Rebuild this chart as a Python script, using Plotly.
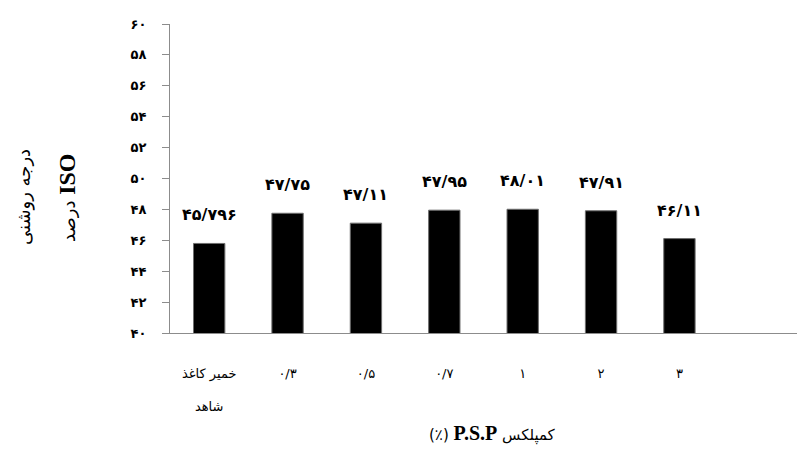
import plotly.graph_objects as go

# Brightness (ISO %) for control pulp and P.S.P complex dosages
categories = ["خمیر کاغذ<br><br>شاهد", "۰/۳", "۰/۵", "۰/۷", "۱", "۲", "۳"]
brightness = [45.796, 47.75, 47.11, 47.95, 48.01, 47.91, 46.11]
y_ticks = [40, 42, 44, 46, 48, 50, 52, 54, 56, 58, 60]

PERSIAN_DIGITS = str.maketrans("0123456789.", "۰۱۲۳۴۵۶۷۸۹/")


def to_persian(value):
    return str(value).translate(PERSIAN_DIGITS)


AXIS_GRAY = "#8c8c8c"
PERSIAN_FONT = "DejaVu Sans"

fig = go.Figure(
    go.Bar(
        x=list(range(len(categories))),
        y=brightness,
        base=0,
        marker=dict(color="black", line=dict(color="#6e6e6e", width=1)),
        hoverinfo="skip",
    )
)

# Value labels above each bar
for i, v in enumerate(brightness):
    fig.add_annotation(
        x=i, y=v, text=to_persian(v), showarrow=False,
        yanchor="bottom", yshift=17,
        font=dict(family=PERSIAN_FONT, size=16, color="black", weight="bold"),
    )

# Y-axis title, two rotated columns
fig.add_annotation(
    x=11, y=197, xref="paper", yref="paper", text="درجه روشنی",
    showarrow=False, textangle=-90,
    font=dict(family=PERSIAN_FONT, size=18, color="black"),
)
fig.add_annotation(
    x=52, y=198, xref="paper", yref="paper",
    text="درصد <span style='font-family:Liberation Serif;font-size:24px'><b>ISO</b></span>",
    showarrow=False, textangle=-90,
    font=dict(family=PERSIAN_FONT, size=18, color="black"),
)

# X-axis title
fig.add_annotation(
    x=492, y=447, xref="paper", yref="paper",
    text="(٪) <span style='font-family:Liberation Serif;font-size:20px'><b>P.S.P</b></span> کمپلکس",
    showarrow=False,
    font=dict(family=PERSIAN_FONT, size=15, color="black"),
)

W, H = 798, 459
L, R, T, B = 170, 1, 24, 126

# annotations placed in pixel space: convert to paper coords
for ann in fig.layout.annotations:
    if ann.xref == "paper":
        ann.x = (ann.x - L) / (W - L - R)
        ann.y = 1 - (ann.y - T) / (H - T - B)

fig.update_layout(
    width=W, height=H,
    margin=dict(l=L, r=R, t=T, b=B),
    paper_bgcolor="white", plot_bgcolor="white",
    showlegend=False, bargap=0.6,
    xaxis=dict(
        range=[-0.5, 7.5],
        tickmode="array", tickvals=list(range(len(categories))), ticktext=categories,
        showline=True, linecolor=AXIS_GRAY, linewidth=1,
        ticks="", showgrid=False, zeroline=False,
        ticklabelstandoff=28,
        tickfont=dict(family=PERSIAN_FONT, size=13, color="black"),
    ),
    yaxis=dict(
        range=[40, 60],
        tickmode="array", tickvals=y_ticks, ticktext=[to_persian(t) for t in y_ticks],
        showline=True, linecolor=AXIS_GRAY, linewidth=1,
        ticks="outside", ticklen=7, tickcolor=AXIS_GRAY,
        showgrid=False, zeroline=False,
        ticklabelstandoff=13,
        tickfont=dict(family=PERSIAN_FONT, size=13, color="black", weight="bold"),
    ),
)

fig.write_html("out.html")
